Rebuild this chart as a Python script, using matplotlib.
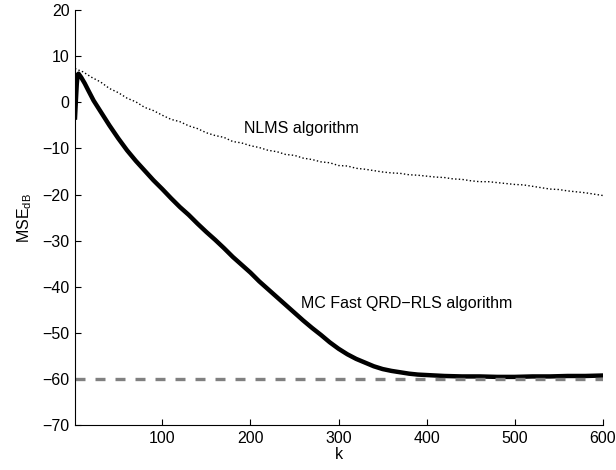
import numpy as np
import matplotlib.pyplot as plt

plt.rcParams['font.family'] = ['Liberation Sans', 'DejaVu Sans']
plt.rcParams['mathtext.fontset'] = 'custom'
plt.rcParams['mathtext.rm'] = 'Liberation Sans'

# MC Fast QRD-RLS learning curve
k_rls = [1, 2, 3, 4, 5, 8, 12, 16, 22, 30, 40, 50, 60, 70, 80, 90, 100, 110,
         120, 130, 140, 150, 160, 170, 180, 190, 200, 210, 220, 230, 240, 250,
         260, 270, 280, 290, 300, 310, 320, 330, 340, 350, 360, 370, 380, 390,
         400, 420, 440, 460, 480, 500, 520, 540, 560, 580, 600]
mse_rls = [-3.3, 0.5, 4.0, 6.0, 6.2, 5.4, 4.1, 2.6, 0.4, -2.0, -5.0, -7.8,
           -10.4, -12.7, -14.8, -16.9, -18.8, -20.8, -22.7, -24.4, -26.3,
           -28.1, -29.8, -31.6, -33.5, -35.2, -36.9, -38.8, -40.5, -42.2,
           -43.9, -45.6, -47.3, -48.9, -50.4, -52.0, -53.4, -54.6, -55.6,
           -56.4, -57.2, -57.8, -58.2, -58.5, -58.8, -59.0, -59.1, -59.3,
           -59.4, -59.4, -59.5, -59.5, -59.4, -59.4, -59.3, -59.3, -59.2]

# NLMS learning curve
k_nlms = [1, 10, 20, 30, 40, 50, 60, 70, 80, 90, 100, 110, 120, 130, 140, 150,
          160, 170, 180, 190, 200, 210, 220, 230, 240, 250, 260, 270, 280, 290,
          300, 310, 320, 330, 340, 350, 360, 370, 380, 390, 400, 410, 420, 430,
          440, 450, 460, 470, 480, 490, 500, 510, 520, 530, 540, 550, 560, 570,
          580, 590, 600]
mse_nlms = [7.3, 6.6, 5.4, 4.4, 3.0, 2.1, 0.9, 0.1, -1.1, -1.8, -2.8, -3.7,
            -4.2, -5.1, -5.7, -6.6, -7.2, -7.6, -8.5, -8.8, -9.4, -9.8, -10.4,
            -10.7, -11.3, -11.5, -12.1, -12.4, -12.9, -13.1, -13.7, -13.8,
            -14.3, -14.5, -14.8, -15.1, -15.3, -15.4, -15.7, -15.8, -16.0,
            -16.2, -16.3, -16.6, -16.7, -17.0, -17.2, -17.2, -17.4, -17.6,
            -17.8, -17.9, -18.2, -18.5, -18.8, -18.9, -19.2, -19.4, -19.6,
            -19.9, -20.2]

mse_min = -60

fig = plt.figure(figsize=(6.16, 4.70), dpi=100)
ax = fig.add_axes([0.1218, 0.095, 0.857, 0.8837])

ax.plot(k_nlms, mse_nlms, color='black', linestyle=':', linewidth=1.0)
ax.plot(k_rls, mse_rls, color='black', linewidth=3.2, solid_joinstyle='round')
ax.axhline(mse_min, color='#808080', linestyle=(0, (3, 3)), linewidth=2.4)

ax.text(193, -5.6, 'NLMS algorithm', fontsize=11.5, va='center')
ax.text(257, -43.5, 'MC Fast QRD\u2212RLS algorithm', fontsize=11.5, va='center')

ax.set_xlim(1, 600)
ax.set_ylim(-70, 20)
ax.set_xticks([100, 200, 300, 400, 500, 600])
ax.set_yticks(np.arange(-70, 21, 10))
ax.set_yticklabels([str(v).replace('-', '\u2212') for v in range(-70, 21, 10)])
ax.tick_params(direction='in', length=4, width=0.8, labelsize=11.5, pad=4)

ax.spines['top'].set_visible(False)
ax.spines['right'].set_visible(False)
ax.spines['left'].set_linewidth(0.8)
ax.spines['bottom'].set_linewidth(0.8)

ax.set_xlabel('k', fontsize=11.5, labelpad=1)
ax.set_ylabel(r'MSE$_{\mathrm{dB}}$', fontsize=11.5, labelpad=6)

fig.savefig('out.png', dpi=100)
